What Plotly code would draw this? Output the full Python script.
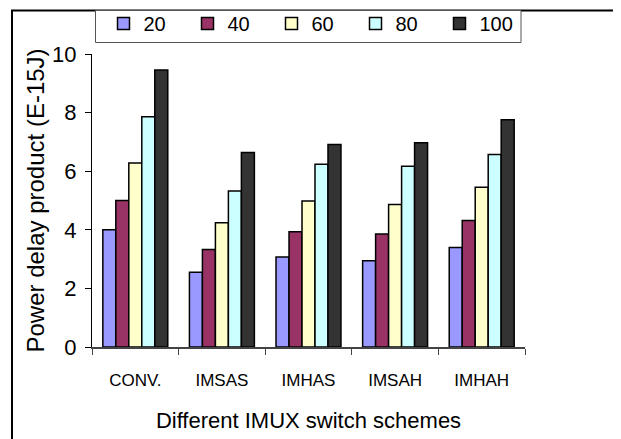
import plotly.graph_objects as go

categories = ["CONV.", "IMSAS", "IMHAS", "IMSAH", "IMHAH"]
series_names = ["20", "40", "60", "80", "100"]
v20 = [4.0, 2.55, 3.07, 2.94, 3.40]
v40 = [5.0, 3.33, 3.93, 3.86, 4.32]
v60 = [6.28, 4.24, 4.98, 4.86, 5.45]
v80 = [7.86, 5.32, 6.24, 6.17, 6.57]
v100 = [9.45, 6.64, 6.91, 6.97, 7.76]
series_values = [v20, v40, v60, v80, v100]
colors = ["#9999FF", "#993366", "#FFFFCC", "#CCFFFF", "#333333"]
y_ticks = [0, 2, 4, 6, 8, 10]

FONT = "Liberation Sans, Arial, sans-serif"

fig = go.Figure()
for name, vals, col in zip(series_names, series_values, colors):
    fig.add_trace(go.Bar(
        x=categories, y=vals, name=name,
        marker=dict(color=col, line=dict(color="black", width=1.5)),
    ))

W, H = 621, 439
OFF = 8  # page body margin offset
ml, mr, mt, mb = 84, 104, 46, 100
pw, ph = W - ml - mr, H - mt - mb

def px_x(p):
    return (p - OFF - ml) / pw

def px_y(p):
    return 1 - (p - OFF - mt) / ph

fig.update_layout(
    width=W, height=H,
    margin=dict(l=ml, r=mr, t=mt, b=mb, pad=0, autoexpand=False),
    paper_bgcolor="white", plot_bgcolor="white",
    barmode="group", bargap=0.25, bargroupgap=0,
    font=dict(family=FONT, color="black", size=20),
    showlegend=True,
    legend=dict(
        orientation="h",
        x=px_x(103.5), xanchor="left",
        y=px_y(4), yanchor="top",
        bgcolor="rgba(0,0,0,0)", borderwidth=0,
        font=dict(size=20, family=FONT),
        entrywidth=39, entrywidthmode="pixels",
        traceorder="normal",
        itemwidth=30,
    ),
    xaxis=dict(
        type="category",
        showline=True, linecolor="#444444", linewidth=1.5,
        ticks="outside", tickson="boundaries", ticklen=6, tickcolor="#444444",
        tickfont=dict(size=17, family=FONT),
        ticklabelstandoff=17,
        showgrid=False,
        title=dict(text="Different IMUX switch schemes", font=dict(size=22, family=FONT), standoff=23),
    ),
    yaxis=dict(
        range=[0, 10], tickvals=y_ticks,
        showline=True, linecolor="black", linewidth=1,
        ticks="outside", ticklen=6, tickcolor="black",
        tickfont=dict(size=22, family=FONT),
        ticklabelstandoff=4,
        showgrid=False, zeroline=False,
        title=dict(text="Power delay product (E-15J)", font=dict(size=24, family=FONT), standoff=0),
    ),
    shapes=[
        dict(type="rect", xref="paper", yref="paper",
             x0=px_x(12), x1=px_x(660), y0=px_y(10.5), y1=px_y(480),
             line=dict(color="black", width=2), fillcolor="rgba(0,0,0,0)", layer="below"),
        dict(type="rect", xref="paper", yref="paper",
             x0=px_x(95.5), x1=px_x(521), y0=px_y(10.5), y1=px_y(42.5),
             line=dict(color="#555555", width=1), fillcolor="white", layer="below"),
    ],
)

fig.write_html("out.html")
